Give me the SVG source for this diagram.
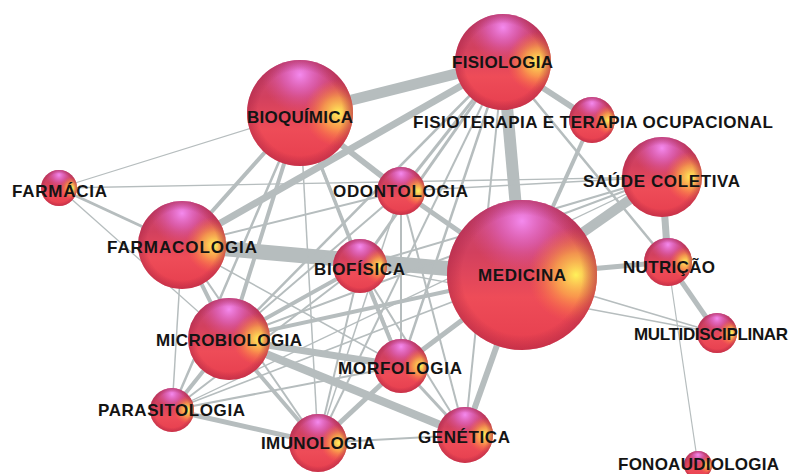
<svg xmlns="http://www.w3.org/2000/svg" xmlns:xlink="http://www.w3.org/1999/xlink" width="800" height="474" viewBox="0 0 800 474">
<style>
.e{stroke:#b6bdbe;stroke-linecap:butt;fill:none}
.t{font-family:"Liberation Sans",Arial,sans-serif;font-weight:bold;font-size:17px;fill:#141414}
</style>
<defs>
<linearGradient id="gBase" x1="0" y1="0" x2="0" y2="1">
<stop offset="0" stop-color="#c8487a"/>
<stop offset="0.35" stop-color="#d2405e"/>
<stop offset="0.65" stop-color="#ee4c58"/>
<stop offset="1" stop-color="#e63e4e"/>
</linearGradient>
<radialGradient id="gPink" cx="0.5" cy="0.14" r="0.36">
<stop offset="0" stop-color="#f48aee" stop-opacity="1"/>
<stop offset="0.45" stop-color="#e26ad0" stop-opacity="0.6"/>
<stop offset="1" stop-color="#d8509a" stop-opacity="0"/>
</radialGradient>
<radialGradient id="gYel" cx="0.86" cy="0.5" r="0.32">
<stop offset="0" stop-color="#fff25a" stop-opacity="1"/>
<stop offset="0.45" stop-color="#ffb848" stop-opacity="0.7"/>
<stop offset="1" stop-color="#ff7040" stop-opacity="0"/>
</radialGradient>
<radialGradient id="gEdge" cx="0.5" cy="0.5" r="0.5">
<stop offset="0.8" stop-color="#a02040" stop-opacity="0"/>
<stop offset="1" stop-color="#a82444" stop-opacity="0.5"/>
</radialGradient>
<symbol id="ball" viewBox="0 0 100 100">
<circle cx="50" cy="50" r="50" fill="url(#gBase)"/>
<circle cx="50" cy="50" r="50" fill="url(#gPink)"/>
<circle cx="50" cy="50" r="50" fill="url(#gYel)"/>
<circle cx="50" cy="50" r="50" fill="url(#gEdge)"/>
</symbol>
</defs>
<rect width="800" height="474" fill="#ffffff"/>
<g id="connectors">
<line class="e" x1="503" y1="62" x2="300" y2="113" stroke-width="11"/>
<line class="e" x1="503" y1="62" x2="522" y2="275" stroke-width="12"/>
<line class="e" x1="182" y1="245" x2="522" y2="275" stroke-width="15"/>
<line class="e" x1="182" y1="245" x2="503" y2="62" stroke-width="7"/>
<line class="e" x1="522" y1="275" x2="662" y2="177" stroke-width="10"/>
<line class="e" x1="662" y1="177" x2="668" y2="262" stroke-width="7"/>
<line class="e" x1="522" y1="275" x2="668" y2="262" stroke-width="5"/>
<line class="e" x1="668" y1="262" x2="717" y2="333" stroke-width="5"/>
<line class="e" x1="229" y1="339" x2="401" y2="366" stroke-width="7"/>
<line class="e" x1="229" y1="339" x2="465" y2="435" stroke-width="8"/>
<line class="e" x1="522" y1="275" x2="465" y2="435" stroke-width="6"/>
<line class="e" x1="522" y1="275" x2="401" y2="366" stroke-width="5"/>
<line class="e" x1="401" y1="366" x2="318" y2="443" stroke-width="5"/>
<line class="e" x1="401" y1="366" x2="465" y2="435" stroke-width="3"/>
<line class="e" x1="300" y1="113" x2="401" y2="191" stroke-width="6"/>
<line class="e" x1="401" y1="191" x2="522" y2="275" stroke-width="5"/>
<line class="e" x1="503" y1="62" x2="592" y2="120" stroke-width="6"/>
<line class="e" x1="592" y1="120" x2="522" y2="275" stroke-width="4"/>
<line class="e" x1="300" y1="113" x2="182" y2="245" stroke-width="4"/>
<line class="e" x1="172" y1="410" x2="318" y2="443" stroke-width="5"/>
<line class="e" x1="229" y1="339" x2="172" y2="410" stroke-width="4"/>
<line class="e" x1="229" y1="339" x2="318" y2="443" stroke-width="4"/>
<line class="e" x1="360" y1="266" x2="401" y2="366" stroke-width="4"/>
<line class="e" x1="360" y1="266" x2="229" y2="339" stroke-width="4"/>
<line class="e" x1="229" y1="339" x2="522" y2="275" stroke-width="4"/>
<line class="e" x1="300" y1="113" x2="229" y2="339" stroke-width="4"/>
<line class="e" x1="300" y1="113" x2="172" y2="410" stroke-width="2.5"/>
<line class="e" x1="300" y1="113" x2="360" y2="266" stroke-width="3"/>
<line class="e" x1="300" y1="113" x2="401" y2="366" stroke-width="3"/>
<line class="e" x1="300" y1="113" x2="318" y2="443" stroke-width="1.5"/>
<line class="e" x1="59" y1="188" x2="182" y2="245" stroke-width="3"/>
<line class="e" x1="59" y1="188" x2="300" y2="113" stroke-width="1.3"/>
<line class="e" x1="59" y1="188" x2="662" y2="177" stroke-width="1.3"/>
<line class="e" x1="59" y1="188" x2="229" y2="339" stroke-width="1.3"/>
<line class="e" x1="182" y1="245" x2="172" y2="410" stroke-width="1.5"/>
<line class="e" x1="182" y1="245" x2="229" y2="339" stroke-width="4"/>
<line class="e" x1="182" y1="245" x2="401" y2="191" stroke-width="2"/>
<line class="e" x1="182" y1="245" x2="318" y2="443" stroke-width="2"/>
<line class="e" x1="182" y1="245" x2="401" y2="366" stroke-width="1.5"/>
<line class="e" x1="503" y1="62" x2="360" y2="266" stroke-width="3"/>
<line class="e" x1="503" y1="62" x2="401" y2="366" stroke-width="2.5"/>
<line class="e" x1="503" y1="62" x2="229" y2="339" stroke-width="2.5"/>
<line class="e" x1="503" y1="62" x2="401" y2="191" stroke-width="3"/>
<line class="e" x1="503" y1="62" x2="668" y2="262" stroke-width="2.5"/>
<line class="e" x1="503" y1="62" x2="318" y2="443" stroke-width="2"/>
<line class="e" x1="503" y1="62" x2="465" y2="435" stroke-width="2"/>
<line class="e" x1="662" y1="177" x2="401" y2="191" stroke-width="1.5"/>
<line class="e" x1="662" y1="177" x2="360" y2="266" stroke-width="2"/>
<line class="e" x1="662" y1="177" x2="229" y2="339" stroke-width="2"/>
<line class="e" x1="662" y1="177" x2="401" y2="366" stroke-width="1.5"/>
<line class="e" x1="662" y1="177" x2="172" y2="410" stroke-width="1.3"/>
<line class="e" x1="522" y1="275" x2="717" y2="333" stroke-width="1.5"/>
<line class="e" x1="360" y1="266" x2="717" y2="333" stroke-width="1.3"/>
<line class="e" x1="668" y1="262" x2="698" y2="465" stroke-width="1.2"/>
<line class="e" x1="318" y1="443" x2="465" y2="435" stroke-width="2"/>
<line class="e" x1="172" y1="410" x2="360" y2="266" stroke-width="2"/>
<line class="e" x1="172" y1="410" x2="401" y2="366" stroke-width="2"/>
<line class="e" x1="172" y1="410" x2="522" y2="275" stroke-width="1.5"/>
<line class="e" x1="318" y1="443" x2="360" y2="266" stroke-width="2"/>
<line class="e" x1="465" y1="435" x2="360" y2="266" stroke-width="2"/>
<line class="e" x1="465" y1="435" x2="401" y2="191" stroke-width="2"/>
<line class="e" x1="401" y1="191" x2="229" y2="339" stroke-width="2"/>
<line class="e" x1="401" y1="191" x2="401" y2="366" stroke-width="2"/>
<line class="e" x1="401" y1="191" x2="318" y2="443" stroke-width="1.5"/>
</g>
<g id="n-fisiologia"><use href="#ball" x="455" y="14" width="96" height="96"/><text class="t" x="452" y="68" textLength="101">FISIOLOGIA</text></g>
<g id="n-bioquimica"><use href="#ball" x="247" y="60" width="106" height="106"/><text class="t" x="247" y="123" textLength="106">BIOQUÍMICA</text></g>
<g id="n-fisioterapia"><use href="#ball" x="569" y="97" width="46" height="46"/><text class="t" x="413" y="128" textLength="360">FISIOTERAPIA E TERAPIA OCUPACIONAL</text></g>
<g id="n-farmacia"><use href="#ball" x="41" y="170" width="36" height="36"/><text class="t" x="12" y="197" textLength="95">FARMÁCIA</text></g>
<g id="n-odontologia"><use href="#ball" x="377" y="167" width="48" height="48"/><text class="t" x="333" y="197" textLength="135">ODONTOLOGIA</text></g>
<g id="n-saude-coletiva"><use href="#ball" x="622" y="137" width="80" height="80"/><text class="t" x="583" y="187" textLength="157">SAÚDE COLETIVA</text></g>
<g id="n-farmacologia"><use href="#ball" x="138" y="201" width="88" height="88"/><text class="t" x="107" y="253" textLength="150">FARMACOLOGIA</text></g>
<g id="n-biofisica"><use href="#ball" x="333" y="239" width="54" height="54"/><text class="t" x="314" y="275" textLength="91">BIOFÍSICA</text></g>
<g id="n-medicina"><use href="#ball" x="447" y="200" width="150" height="150"/><text class="t" x="478" y="281" textLength="88">MEDICINA</text></g>
<g id="n-nutricao"><use href="#ball" x="644" y="238" width="48" height="48"/><text class="t" x="623" y="273" textLength="92">NUTRIÇÃO</text></g>
<g id="n-multidisciplinar"><use href="#ball" x="697" y="313" width="40" height="40"/><text class="t" x="634" y="340" textLength="154">MULTIDISCIPLINAR</text></g>
<g id="n-microbiologia"><use href="#ball" x="188" y="298" width="82" height="82"/><text class="t" x="156" y="346" textLength="146">MICROBIOLOGIA</text></g>
<g id="n-morfologia"><use href="#ball" x="374" y="339" width="54" height="54"/><text class="t" x="338" y="374" textLength="124">MORFOLOGIA</text></g>
<g id="n-parasitologia"><use href="#ball" x="150" y="388" width="44" height="44"/><text class="t" x="98" y="416" textLength="147">PARASITOLOGIA</text></g>
<g id="n-imunologia"><use href="#ball" x="289" y="414" width="58" height="58"/><text class="t" x="261" y="449" textLength="114">IMUNOLOGIA</text></g>
<g id="n-genetica"><use href="#ball" x="437" y="407" width="56" height="56"/><text class="t" x="418" y="443" textLength="92">GENÉTICA</text></g>
<g id="n-fonoaudiologia"><use href="#ball" x="684" y="451" width="28" height="28"/><text class="t" x="618" y="470" textLength="161">FONOAUDIOLOGIA</text></g>
</svg>
